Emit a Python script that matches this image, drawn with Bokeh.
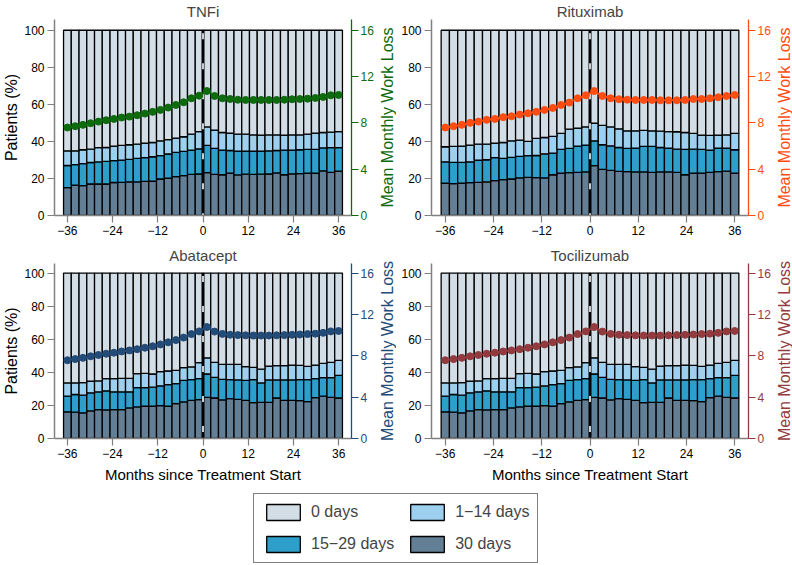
from bokeh.plotting import figure
from bokeh.models import (Range1d, LinearAxis, FixedTicker, Legend, LegendItem,
                          ColumnDataSource, Title)
from bokeh.layouts import column, row
from bokeh.embed import file_html
from bokeh.resources import INLINE

# ---------------- data ----------------
# 2-month bins centred on these months (36 bins, 18 before / 18 after start)
months = list(range(-35, 36, 2))
tick_months = [-36, -24, -12, 0, 12, 24, 36]
treatment_start = 0
all_pct = 100

panel_names = ["TNFi", "Rituximab", "Abatacept", "Tocilizumab"]
line_colors = {"TNFi": "#0d6b0d", "Rituximab": "#ff4d12",
               "Abatacept": "#234b78", "Tocilizumab": "#923a3e"}

category_labels = ["0 days", "1\u221214 days", "15\u221229 days", "30 days"]
category_colors = ["#d2dde6", "#9dcfee", "#2e9ecb", "#637f96"]

# cumulative % of patients (top of each band, from the bottom)
tnfi_30 = [15.0, 16.4, 16.1, 17.0, 17.0, 17.0, 17.8, 17.9, 18.2, 18.1, 18.4, 18.5,
           19.7, 20.1, 21.0, 21.5, 22.2, 22.4,
           23.1, 22.2, 22.0, 22.8, 21.9, 22.3, 22.2, 22.3, 22.4, 23.0, 22.0, 22.5,
           22.6, 22.8, 22.8, 24.1, 23.3, 24.0]
tnfi_15_29 = [27.0, 27.5, 28.0, 28.6, 28.9, 29.2, 29.6, 29.9, 30.3, 30.8, 31.2, 31.7,
              32.3, 33.2, 34.1, 34.6, 35.3, 36.0,
              37.8, 36.2, 35.3, 35.1, 34.8, 34.8, 34.8, 34.8, 34.9, 35.1, 35.3, 35.3,
              35.5, 35.7, 35.7, 36.5, 36.6, 36.6]
tnfi_1_14 = [34.9, 34.9, 35.5, 35.8, 36.6, 36.7, 37.5, 37.8, 38.2, 38.5, 39.1, 39.4,
             40.3, 41.0, 41.8, 42.5, 43.9, 45.3,
             47.8, 46.1, 44.8, 44.4, 43.9, 43.9, 43.5, 43.4, 43.5, 43.5, 43.4, 43.5,
             43.5, 43.9, 44.5, 44.8, 45.0, 45.3]
tnfi_loss = [7.60, 7.71, 7.83, 7.97, 8.11, 8.23, 8.34, 8.46, 8.54, 8.66, 8.80, 8.95,
             9.12, 9.32, 9.55, 9.78, 10.12, 10.35,
             10.75, 10.32, 10.12, 10.06, 10.00, 9.98, 9.98, 9.98, 9.98, 9.98, 10.00, 10.04,
             10.06, 10.09, 10.15, 10.24, 10.38, 10.41]

ritux_30 = [17.4, 17.2, 17.4, 17.7, 17.9, 18.1, 18.8, 19.4, 19.7, 20.3, 20.6, 20.4,
            20.3, 22.0, 22.9, 23.1, 23.3, 23.5,
            26.9, 24.9, 24.4, 23.8, 23.7, 23.5, 23.5, 23.3, 23.5, 23.5, 23.3, 22.0,
            22.8, 22.9, 23.3, 23.7, 23.9, 22.9]
ritux_15_29 = [29.0, 28.7, 28.7, 29.0, 29.9, 30.1, 31.2, 30.8, 31.4, 31.9, 32.3, 32.4,
               33.3, 33.7, 35.7, 36.2, 37.5, 38.0,
               40.3, 38.2, 37.6, 36.7, 36.2, 36.4, 37.3, 37.3, 36.7, 36.4, 35.8, 35.7,
               35.8, 35.7, 35.3, 36.4, 36.4, 35.5]
ritux_1_14 = [37.1, 37.3, 37.5, 38.0, 38.5, 38.5, 39.1, 39.4, 40.3, 40.7, 40.0, 41.6,
              42.1, 42.7, 44.3, 46.6, 47.1, 47.8,
              49.8, 48.7, 47.8, 46.8, 45.7, 45.7, 45.9, 45.7, 45.5, 45.3, 45.2, 44.8,
              44.3, 43.4, 43.2, 43.4, 43.5, 44.3]
ritux_loss = [7.60, 7.71, 7.83, 8.00, 8.11, 8.26, 8.34, 8.49, 8.57, 8.72, 8.83, 8.95,
              9.12, 9.29, 9.55, 9.75, 10.12, 10.38,
              10.75, 10.32, 10.12, 10.04, 10.00, 9.98, 9.98, 9.98, 9.95, 9.95, 9.95, 9.98,
              10.06, 10.06, 10.12, 10.21, 10.32, 10.41]

abat_30 = [16.1, 15.9, 15.5, 16.7, 17.5, 17.3, 17.5, 17.5, 18.5, 19.1, 19.5, 19.5,
           19.9, 19.5, 21.1, 22.1, 23.1, 23.5,
           24.9, 24.5, 23.3, 24.1, 23.7, 23.1, 21.7, 21.9, 21.9, 24.5, 23.1, 23.1,
           22.9, 22.3, 24.7, 25.6, 24.9, 24.5]
abat_15_29 = [25.6, 26.6, 26.2, 27.6, 28.2, 28.8, 28.2, 28.2, 28.2, 30.8, 30.8, 31.0,
              31.8, 32.6, 33.2, 35.2, 35.6, 36.2,
              39.0, 37.0, 35.8, 35.6, 35.4, 35.2, 35.6, 33.6, 35.4, 35.4, 35.4, 35.4,
              35.6, 35.6, 36.2, 36.8, 36.8, 38.2]
abat_1_14 = [33.6, 33.6, 33.8, 34.6, 34.8, 36.2, 36.2, 36.4, 36.4, 39.2, 39.4, 39.0,
             40.4, 40.8, 41.2, 42.8, 43.3, 45.9,
             48.8, 46.0, 44.8, 44.8, 44.8, 43.4, 43.0, 41.9, 43.8, 44.0, 44.0, 44.4,
             44.2, 43.6, 44.4, 45.4, 46.0, 47.2]
abat_loss = [7.57, 7.68, 7.80, 7.95, 8.08, 8.20, 8.30, 8.42, 8.52, 8.64, 8.78, 8.92,
             9.10, 9.30, 9.52, 9.76, 10.10, 10.36,
             10.78, 10.34, 10.12, 10.04, 10.00, 9.98, 9.96, 9.96, 9.96, 9.98, 10.00, 10.03,
             10.06, 10.10, 10.14, 10.22, 10.36, 10.40]

toci_30 = list(abat_30)
toci_15_29 = list(abat_15_29)
toci_1_14 = list(abat_1_14)
toci_loss = list(abat_loss)

panel_data = {
    "TNFi": (tnfi_30, tnfi_15_29, tnfi_1_14, tnfi_loss),
    "Rituximab": (ritux_30, ritux_15_29, ritux_1_14, ritux_loss),
    "Abatacept": (abat_30, abat_15_29, abat_1_14, abat_loss),
    "Tocilizumab": (toci_30, toci_15_29, toci_1_14, toci_loss),
}
right_axis_title = "Mean Monthly Work Loss"

# ---------------- styling ----------------
FONT = "Liberation Sans"
AXIS_GRAY = "#808080"
BIN_SCALE = 37 / 36          # 36 bins fill -37..37 on the month axis
Y_TOP = 105.8
WL_TOP = Y_TOP * 16 / 100


def make_panel(name, width, height, left, right, top, bottom, show_ylabel, show_xlabel):
    d30, d15, d1, loss = panel_data[name]
    col = line_colors[name]
    p = figure(width=width, height=height, output_backend="svg", toolbar_location=None,
               x_range=Range1d(-39.4, 39.4), y_range=Range1d(0, Y_TOP),
               min_border_left=left, min_border_right=right,
               min_border_top=top, min_border_bottom=bottom,
               background_fill_color="white", border_fill_color="white")
    p.outline_line_color = None
    p.grid.visible = False
    p.title.text = name
    p.title.align = "center"
    p.title.text_font = FONT
    p.title.text_font_size = "15px"
    p.title.text_font_style = "normal"
    p.title.standoff = 0

    xs = [m * BIN_SCALE for m in months]
    src = ColumnDataSource(dict(
        x=xs, zero=[0] * len(months),
        d30=d30, d15=d15, d1=d1, full=[all_pct] * len(months)))
    w = 2 * BIN_SCALE
    bands = [("zero", "d30", category_colors[3]), ("d30", "d15", category_colors[2]),
             ("d15", "d1", category_colors[1]), ("d1", "full", category_colors[0])]
    for b, t, c in bands:
        p.vbar(x="x", bottom=b, top=t, width=w, source=src, fill_color=c,
               line_color="black", line_width=1.3)

    # treatment start marker
    p.segment(x0=[treatment_start], y0=[0], x1=[treatment_start], y1=[all_pct],
              line_color="black", line_width=3)
    p.segment(x0=[treatment_start], y0=[all_pct], x1=[treatment_start], y1=[0],
              line_color="white", line_width=1.6, line_dash="6 24", line_dash_offset=-3)

    p.extra_y_ranges = {"wl": Range1d(0, WL_TOP)}
    p.line(xs, loss, y_range_name="wl", line_color=col, line_width=2)
    p.scatter(xs, loss, y_range_name="wl", size=7, fill_color=col, line_color=col)

    # axes
    xa = p.xaxis[0]
    xa.ticker = FixedTicker(ticks=tick_months)
    xa.major_label_overrides = {t: (("\u2212" + str(-t)) if t < 0 else str(t)) for t in tick_months}
    ya = p.yaxis[0]
    ya.ticker = FixedTicker(ticks=[0, 20, 40, 60, 80, 100])
    for ax in (xa, ya):
        ax.axis_line_color = AXIS_GRAY
        ax.axis_line_width = 1.5
        ax.major_tick_line_color = AXIS_GRAY
        ax.major_tick_line_width = 1.2
        ax.major_tick_out = 7
        ax.major_tick_in = 0
        ax.minor_tick_line_color = None
        ax.major_label_text_font = FONT
        ax.major_label_text_font_size = "12px"
        ax.major_label_text_color = "black"
        ax.major_label_standoff = 3
        ax.axis_label_text_font = FONT
        ax.axis_label_text_font_style = "normal"
        ax.axis_label_text_color = "black"
    ya.major_label_orientation = "horizontal"
    if show_ylabel:
        ya.axis_label = "Patients (%)"
        ya.axis_label_text_font_size = "16px"
        ya.axis_label_standoff = 1
    if show_xlabel:
        xa.axis_label = "Months since Treatment Start"
        xa.axis_label_text_font_size = "15px"
        xa.axis_label_standoff = 5

    ra = LinearAxis(y_range_name="wl", ticker=FixedTicker(ticks=[0, 4, 8, 12, 16]))
    ra.axis_line_color = col
    ra.axis_line_width = 1.3
    ra.major_tick_line_color = col
    ra.major_tick_line_width = 1.2
    ra.major_tick_out = 7
    ra.major_tick_in = 0
    ra.minor_tick_line_color = None
    ra.major_label_text_font = FONT
    ra.major_label_text_font_size = "12px"
    ra.major_label_text_color = col
    ra.major_label_standoff = 2
    p.add_layout(ra, "right")
    return p


def make_side_title(name, width, height, top, bottom):
    """Narrow strip carrying the right-axis title, reading bottom-to-top."""
    col = line_colors[name]
    s = figure(width=width, height=height, output_backend="svg", toolbar_location=None,
               x_axis_location=None, y_axis_location=None,
               x_range=Range1d(0, 1), y_range=Range1d(0, 1),
               min_border_left=width - 3, min_border_right=0,
               min_border_top=top, min_border_bottom=bottom)
    s.outline_line_color = None
    s.grid.visible = False
    s.title.text = ""
    t = Title(text=right_axis_title, align="center", text_font=FONT,
              text_font_size="16px", text_font_style="normal", text_color=col,
              standoff=0, offset=0)
    s.add_layout(t, "left")
    return s


p1 = make_panel("TNFi", 376, 243, 49, 23, 18, 28, True, False)
s1 = make_side_title("TNFi", 20, 243, 18, 28)
p2 = make_panel("Rituximab", 377, 243, 35, 23, 18, 28, False, False)
s2 = make_side_title("Rituximab", 19, 243, 18, 28)
p3 = make_panel("Abatacept", 376, 245, 49, 23, 20, 50, True, True)
s3 = make_side_title("Abatacept", 20, 245, 20, 50)
p4 = make_panel("Tocilizumab", 377, 245, 35, 23, 20, 50, False, True)
s4 = make_side_title("Tocilizumab", 19, 245, 20, 50)

# legend panel
leg = figure(width=792, height=77, output_backend="svg", toolbar_location=None,
             x_range=Range1d(0, 1), y_range=Range1d(0, 1),
             min_border=0, min_border_left=0, min_border_right=0,
             min_border_top=0, min_border_bottom=0)
leg.outline_line_color = None
leg.grid.visible = False
leg.axis.visible = False
# legend-only renderers (one NaN row each so the legend swatch is drawn)
legend_order = [0, 2, 1, 3]   # filled column-wise -> rows: 0 | 1-14 ; 15-29 | 30
items = []
for i in legend_order:
    src = ColumnDataSource(dict(x=[float("nan")], top=[float("nan")]))
    r = leg.vbar(x="x", top="top", width=0.1, source=src, fill_color=category_colors[i],
                 line_color="black", line_width=1.3)
    items.append(LegendItem(label=category_labels[i], renderers=[r]))
legend = Legend(items=items, ncols=2, location=(253, 2),
                glyph_width=42, glyph_height=20, label_standoff=7,
                spacing=12, padding=8, margin=0,
                label_text_font=FONT, label_text_font_size="16px",
                label_height=20,
                border_line_color="black", border_line_width=1.5,
                background_fill_color="white", background_fill_alpha=1)
leg.add_layout(legend, "center")

layout = column(row(p1, s1, p2, s2), row(p3, s3, p4, s4), leg)
open("out.html", "w").write(file_html(layout, INLINE))
